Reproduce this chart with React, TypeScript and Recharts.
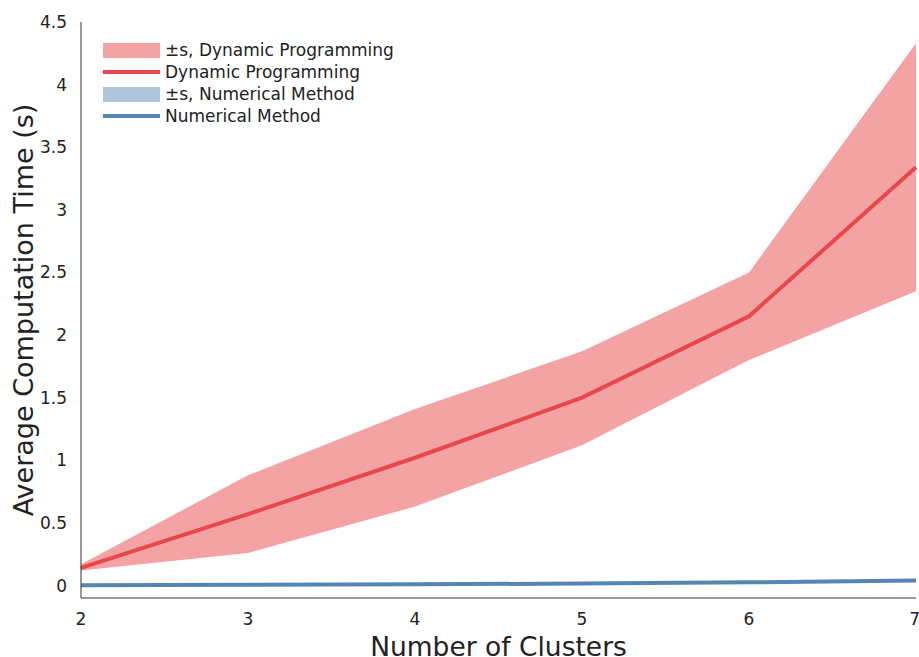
import React from "react"
import { ComposedChart, Area, Line, XAxis, YAxis } from "recharts"

// values
const clusters = [2, 3, 4, 5, 6, 7]
const dpMean = [0.14, 0.57, 1.02, 1.5, 2.15, 3.34]
const dpLow = [0.12, 0.26, 0.63, 1.12, 1.8, 2.35]
const dpHigh = [0.17, 0.88, 1.41, 1.87, 2.5, 4.33]
const nmMean = [0.002, 0.005, 0.01, 0.015, 0.025, 0.04]
const nmLow = [0.001, 0.003, 0.007, 0.011, 0.02, 0.033]
const nmHigh = [0.003, 0.007, 0.013, 0.019, 0.03, 0.047]
const yTicks = [0, 0.5, 1, 1.5, 2, 2.5, 3, 3.5, 4, 4.5]

const RED_BAND = "#f4a3a5"
const RED = "#e8474c"
const BLUE_BAND = "#adc5db"
const BLUE = "#5486b1"
const FONT = "DejaVu Sans, sans-serif"

const data = clusters.map((c, i) => ({
  clusters: c,
  dpBand: [dpLow[i], dpHigh[i]],
  dp: dpMean[i],
  nmBand: [nmLow[i], nmHigh[i]],
  nm: nmMean[i],
}))

const legendItems = [
  { label: "±s, Dynamic Programming", color: RED_BAND, patch: true },
  { label: "Dynamic Programming", color: RED, patch: false },
  { label: "±s, Numerical Method", color: BLUE_BAND, patch: true },
  { label: "Numerical Method", color: BLUE, patch: false },
]

function LegendBox() {
  return (
    <div style={{ position: "absolute", left: 103, top: 39, fontFamily: FONT, fontSize: 17, color: "#222" }}>
      {legendItems.map((it) => (
        <div key={it.label} style={{ display: "flex", alignItems: "center", height: 22, whiteSpace: "nowrap" }}>
          <div style={{ width: 57, height: 22, display: "flex", alignItems: "center", marginRight: 5 }}>
            <div style={{ width: 57, height: it.patch ? 15 : 4, background: it.color }} />
          </div>
          <span>{it.label}</span>
        </div>
      ))}
    </div>
  )
}

export default function App() {
  return (
    <div style={{ position: "absolute", left: 0, top: 0, width: 919, height: 657, background: "#fff" }}>
      <ComposedChart
        width={919}
        height={657}
        data={data}
        margin={{ top: 22, right: 3, left: 0, bottom: 0 }}
      >
        <XAxis
          dataKey="clusters"
          type="number"
          domain={[2, 7]}
          ticks={clusters}
          height={59}
          axisLine={{ stroke: "#333" }}
          tickLine={false}
          tickMargin={9}
          tick={{ fill: "#222", fontSize: 17, fontFamily: FONT }}
          label={{
            value: "Number of Clusters",
            position: "insideBottom",
            offset: 0,
            dy: -1,
            style: { fill: "#222", fontSize: 26.5, fontFamily: FONT },
          }}
        />
        <YAxis
          type="number"
          domain={[-0.1, 4.5]}
          ticks={yTicks}
          width={81}
          axisLine={{ stroke: "#333" }}
          tickLine={false}
          tickMargin={8}
          allowDataOverflow
          tick={{ fill: "#222", fontSize: 17, fontFamily: FONT }}
          label={{
            value: "Average Computation Time (s)",
            angle: -90,
            position: "insideLeft",
            offset: 0,
            dx: 23,
            dy: 0,
            style: { fill: "#222", fontSize: 27, fontFamily: FONT, textAnchor: "middle" },
          }}
        />
        <Area
          dataKey="dpBand"
          type="linear"
          stroke="none"
          fill={RED_BAND}
          fillOpacity={1}
          isAnimationActive={false}
          activeDot={false}
        />
        <Area
          dataKey="nmBand"
          type="linear"
          stroke="none"
          fill={BLUE_BAND}
          fillOpacity={1}
          isAnimationActive={false}
          activeDot={false}
        />
        <Line
          dataKey="dp"
          type="linear"
          stroke={RED}
          strokeWidth={4}
          dot={false}
          isAnimationActive={false}
        />
        <Line
          dataKey="nm"
          type="linear"
          stroke={BLUE}
          strokeWidth={4}
          dot={false}
          isAnimationActive={false}
        />
      </ComposedChart>
      <LegendBox />
    </div>
  )
}
